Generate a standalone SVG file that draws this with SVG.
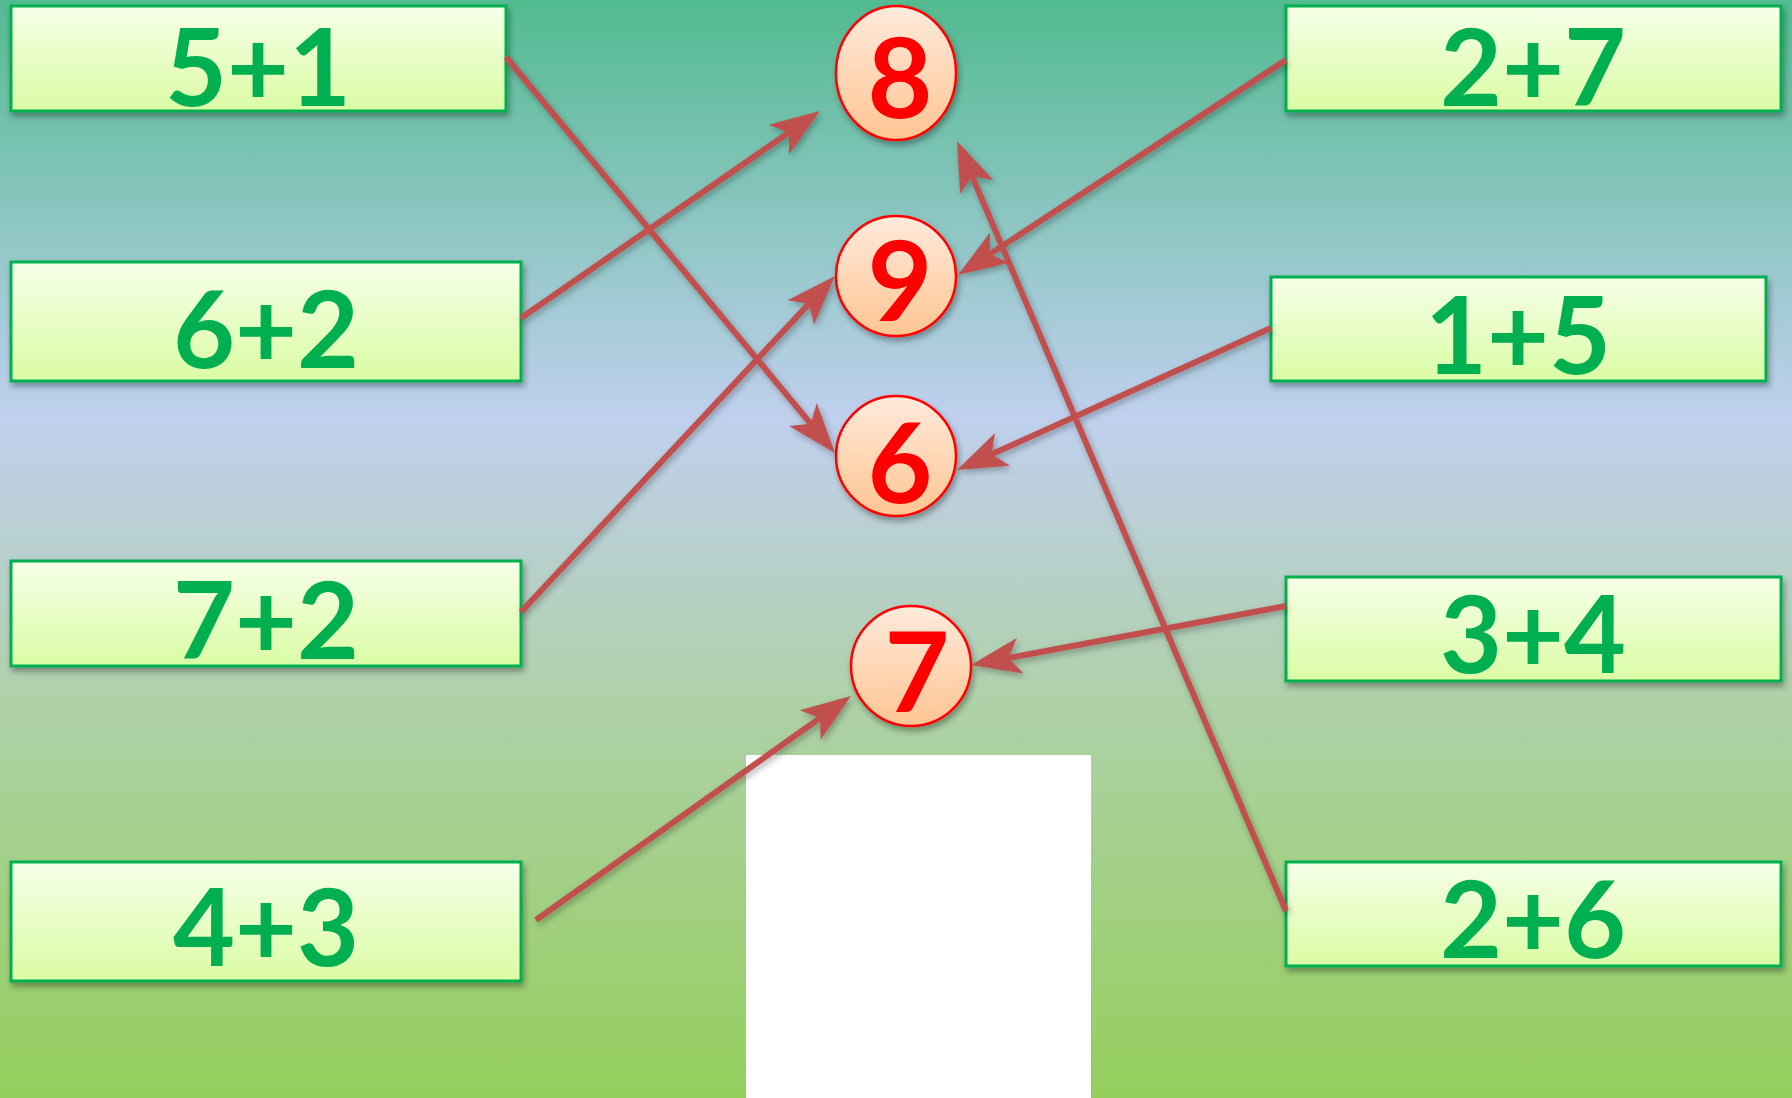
<svg xmlns="http://www.w3.org/2000/svg" width="1792" height="1098" viewBox="0 0 1792 1098">
<defs>
<linearGradient id="bg" x1="0" y1="0" x2="0" y2="1">
<stop offset="0" stop-color="#52bb90"/>
<stop offset="0.38" stop-color="#c0d0ee"/>
<stop offset="0.51" stop-color="#b8d0cc"/>
<stop offset="0.64" stop-color="#aed1a8"/>
<stop offset="1" stop-color="#94cf5c"/>
</linearGradient>
<linearGradient id="boxg" x1="0" y1="0" x2="0" y2="1">
<stop offset="0" stop-color="#f6ffe8"/>
<stop offset="1" stop-color="#dafca4"/>
</linearGradient>
<linearGradient id="circg" x1="0" y1="0" x2="0" y2="1">
<stop offset="0" stop-color="#ffeadc"/>
<stop offset="1" stop-color="#ffc592"/>
</linearGradient>
<filter id="sh" x="-20%" y="-20%" width="140%" height="150%">
<feDropShadow dx="2" dy="4" stdDeviation="3" flood-color="#000" flood-opacity="0.35"/>
</filter>
<filter id="lsh" x="-10%" y="-10%" width="120%" height="120%">
<feDropShadow dx="2" dy="3" stdDeviation="3" flood-color="#000" flood-opacity="0.3"/>
</filter>
<marker id="ah" markerUnits="userSpaceOnUse" viewBox="0 0 52 40" markerWidth="52" markerHeight="40" refX="20" refY="20" orient="auto">
<path d="M50,20 L0,2 L12,20 L0,38 Z" fill="#c0504d"/>
</marker>
<style>
.box{fill:url(#boxg);stroke:#00b050;stroke-width:3;filter:url(#sh)}
.bt{font-family:Lato,"Open Sans","Liberation Sans",sans-serif;font-weight:bold;font-size:107px;fill:#00b050;text-anchor:middle}
.circ{fill:url(#circg);stroke:#ff0000;stroke-width:2.5;filter:url(#sh)}
.ct{font-family:Lato,"Open Sans","Liberation Sans",sans-serif;font-weight:bold;font-size:112px;fill:#ff0000;text-anchor:middle}
.con line{stroke:#c0504d;stroke-width:6;marker-end:url(#ah)}
</style>
</defs>
<rect x="0" y="0" width="1792" height="1098" fill="url(#bg)"/>
<rect x="746" y="755" width="345" height="343" fill="#ffffff"/>

<g id="n51"><rect class="box" x="11" y="6" width="495" height="105"/><text class="bt" x="258" y="106">5+1</text></g>
<g id="n62"><rect class="box" x="11" y="262" width="510" height="119"/><text class="bt" x="266" y="368">6+2</text></g>
<g id="n72"><rect class="box" x="11" y="561" width="510" height="105"/><text class="bt" x="266" y="659">7+2</text></g>
<g id="n43"><rect class="box" x="11" y="862" width="510" height="119"/><text class="bt" x="266" y="966">4+3</text></g>
<g id="n27"><rect class="box" x="1286" y="6" width="495" height="105"/><text class="bt" x="1533" y="106">2+7</text></g>
<g id="n15"><rect class="box" x="1271" y="277" width="495" height="104"/><text class="bt" x="1518" y="374">1+5</text></g>
<g id="n34"><rect class="box" x="1286" y="577" width="495" height="104"/><text class="bt" x="1533" y="673">3+4</text></g>
<g id="n26"><rect class="box" x="1286" y="862" width="495" height="104"/><text class="bt" x="1533" y="958">2+6</text></g>

<g id="c8"><ellipse class="circ" cx="896" cy="73" rx="60" ry="67"/><text class="ct" x="900" y="118">8</text></g>
<g id="c9"><ellipse class="circ" cx="896" cy="276" rx="60" ry="60"/><text class="ct" x="900" y="321">9</text></g>
<g id="c6"><ellipse class="circ" cx="896" cy="456" rx="60" ry="60"/><text class="ct" x="900" y="503">6</text></g>
<g id="c7"><ellipse class="circ" cx="911" cy="666" rx="60" ry="60"/><text class="ct" x="917" y="712">7</text></g>

<g id="connectors" class="con" filter="url(#lsh)">
<line x1="506" y1="57" x2="815.8" y2="429.9"/>
<line x1="521" y1="318" x2="795.3" y2="128.1"/>
<line x1="521" y1="612" x2="814.5" y2="297.9"/>
<line x1="536" y1="920" x2="826.5" y2="713.4"/>
<line x1="1286" y1="60" x2="983.1" y2="258.6"/>
<line x1="1271" y1="328" x2="984.3" y2="457.6"/>
<line x1="1286" y1="606" x2="1000.5" y2="659.5"/>
<line x1="1286" y1="911" x2="968.8" y2="168.6"/>
</g>
</svg>
